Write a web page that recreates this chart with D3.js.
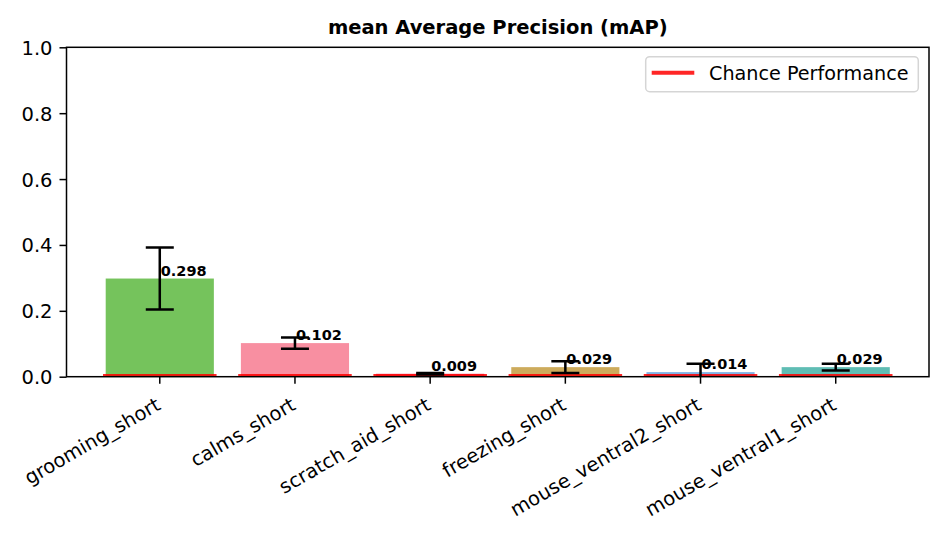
<!DOCTYPE html>
<html>
<head>
<meta charset="utf-8">
<script src="https://cdn.jsdelivr.net/npm/d3@7"></script>
<style>
    body { margin: 0; background: #fff; }
    svg text { font-family: "DejaVu Sans", sans-serif; fill: #000; }
</style>
</head>
<body>
<svg id="chart" width="947" height="537"></svg>
<script>
// values
const categories = ["grooming_short", "calms_short", "scratch_aid_short", "freezing_short", "mouse_ventral2_short", "mouse_ventral1_short"];
const mapValues = [0.298, 0.102, 0.009, 0.029, 0.014, 0.029];
const mapErrors = [0.094, 0.017, 0.002, 0.018, 0.025, 0.010];
const chanceValues = [0.005, 0.005, 0.005, 0.005, 0.005, 0.005];
const barColors = ["#75c35c", "#f88fa1", "#ee6c90", "#cdab5c", "#7fb3e6", "#5fbdb4"];
const yTicks = [0, 0.2, 0.4, 0.6, 0.8, 1.0];

const svg = d3.select("#chart");
const plotLeft = 66.5, plotRight = 929, plotTop = 47.3, plotBottom = 376.7;

// band scale laid out like matplotlib's default bar xlim
const x = d3.scaleBand()
    .domain(categories)
    .range([plotLeft, plotRight])
    .paddingInner(0.2)
    .paddingOuter(0.29);

const y = d3.scaleLinear()
    .domain([0, 1])
    .range([plotBottom, plotTop]);

const rows = categories.map((c, i) => ({
    name: c, value: mapValues[i], err: mapErrors[i], chance: chanceValues[i], color: barColors[i]
}));

svg.append("defs").append("clipPath").attr("id", "plot-clip")
    .append("rect")
    .attr("x", plotLeft).attr("y", plotTop)
    .attr("width", plotRight - plotLeft).attr("height", plotBottom - plotTop);

const plot = svg.append("g").attr("clip-path", "url(#plot-clip)");

// bars
plot.append("g")
    .selectAll("rect")
    .data(rows)
    .join("rect")
    .attr("x", d => x(d.name))
    .attr("y", d => y(d.value))
    .attr("width", x.bandwidth())
    .attr("height", d => y(0) - y(d.value))
    .attr("fill", d => d.color);

// chance performance lines
const half = x.step() * 0.42;
plot.append("g")
    .selectAll("line")
    .data(rows)
    .join("line")
    .attr("x1", d => x(d.name) + x.bandwidth() / 2 - half)
    .attr("x2", d => x(d.name) + x.bandwidth() / 2 + half)
    .attr("y1", d => y(d.chance))
    .attr("y2", d => y(d.chance))
    .attr("stroke", "red")
    .attr("stroke-opacity", 0.85)
    .attr("stroke-width", 2);

// error bars
const cap = 14;
const errG = plot.append("g")
    .selectAll("g")
    .data(rows)
    .join("g")
    .attr("stroke", "#000")
    .attr("stroke-width", 2.5);

errG.append("line")
    .attr("x1", d => x(d.name) + x.bandwidth() / 2)
    .attr("x2", d => x(d.name) + x.bandwidth() / 2)
    .attr("y1", d => y(d.value - d.err))
    .attr("y2", d => y(d.value + d.err));

errG.selectAll("line.cap")
    .data(d => [d.value - d.err, d.value + d.err].map(v => ({ name: d.name, v: v })))
    .join("line")
    .attr("class", "cap")
    .attr("x1", d => x(d.name) + x.bandwidth() / 2 - cap)
    .attr("x2", d => x(d.name) + x.bandwidth() / 2 + cap)
    .attr("y1", d => y(d.v))
    .attr("y2", d => y(d.v));

// value labels
svg.append("g")
    .selectAll("text")
    .data(rows)
    .join("text")
    .attr("x", d => x(d.name) + x.bandwidth() / 2 + 1)
    .attr("y", d => y(d.value) - 3)
    .attr("font-size", "14.5px")
    .attr("font-weight", "bold")
    .text(d => d.value.toFixed(3));

// axes frame
svg.append("rect")
    .attr("x", plotLeft).attr("y", plotTop)
    .attr("width", plotRight - plotLeft).attr("height", plotBottom - plotTop)
    .attr("fill", "none")
    .attr("stroke", "#000")
    .attr("stroke-width", 1.5);

// y axis
const yAxis = svg.append("g")
    .attr("transform", `translate(${plotLeft},0)`)
    .call(d3.axisLeft(y).tickValues(yTicks).tickFormat(d3.format(".1f")).tickSize(7).tickPadding(7));
yAxis.select(".domain").remove();
yAxis.selectAll(".tick line").attr("stroke-width", 1.5);
yAxis.selectAll(".tick text")
    .attr("font-size", "19.5px")
    .attr("font-family", "DejaVu Sans")
    .attr("dy", "0.36em");

// x axis
const xAxis = svg.append("g")
    .attr("transform", `translate(0,${plotBottom})`)
    .call(d3.axisBottom(x).tickSize(7).tickSizeOuter(0));
xAxis.select(".domain").remove();
xAxis.selectAll(".tick line").attr("stroke-width", 1.5);
xAxis.selectAll(".tick text")
    .attr("font-size", "19.5px")
    .attr("font-family", "DejaVu Sans")
    .attr("text-anchor", "end")
    .attr("y", null)
    .attr("dy", null)
    .attr("transform", "translate(2,32) rotate(-30)");

// title
svg.append("text")
    .attr("x", (plotLeft + plotRight) / 2)
    .attr("y", 34)
    .attr("text-anchor", "middle")
    .attr("font-size", "19.5px")
    .attr("font-weight", "bold")
    .text("mean Average Precision (mAP)");

// legend
const legend = svg.append("g");
legend.append("rect")
    .attr("x", 645.7).attr("y", 56.7)
    .attr("width", 272.6).attr("height", 35)
    .attr("rx", 4)
    .attr("fill", "#fff")
    .attr("fill-opacity", 0.8)
    .attr("stroke", "#d5d5d5")
    .attr("stroke-width", 1.5);
legend.append("line")
    .attr("x1", 651.7).attr("x2", 694.3)
    .attr("y1", 72.7).attr("y2", 72.7)
    .attr("stroke", "red")
    .attr("stroke-opacity", 0.85)
    .attr("stroke-width", 4);
legend.append("text")
    .attr("x", 709)
    .attr("y", 79.5)
    .attr("font-size", "19.2px")
    .text("Chance Performance");
</script>
</body>
</html>
